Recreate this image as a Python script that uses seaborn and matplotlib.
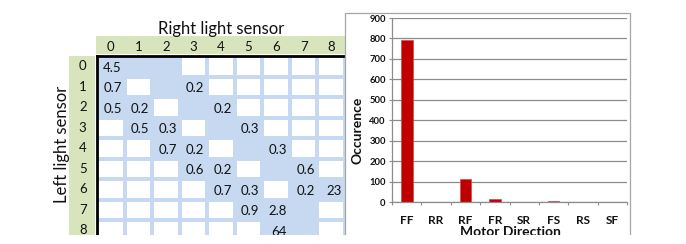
import numpy as np
import matplotlib
matplotlib.use("Agg")
import matplotlib.pyplot as plt
import seaborn as sns
from matplotlib.patches import Rectangle
from matplotlib.colors import ListedColormap

# ---------------- data ----------------
sensor_levels = [0, 1, 2, 3, 4, 5, 6, 7, 8]
highlight_rows = [
    [1, 1, 1, 0, 0, 0, 0, 0, 0],
    [1, 0, 1, 1, 0, 0, 0, 0, 0],
    [1, 1, 0, 1, 1, 0, 0, 0, 0],
    [0, 1, 1, 0, 1, 1, 0, 0, 0],
    [0, 0, 1, 1, 0, 1, 1, 0, 0],
    [0, 0, 0, 1, 1, 0, 1, 1, 0],
    [0, 0, 0, 0, 1, 1, 0, 1, 1],
    [0, 0, 0, 0, 0, 1, 1, 1, 0],
    [0, 0, 0, 0, 0, 0, 1, 1, 0],
]
cell_text = [
    ["4.5", "", "", "", "", "", "", "", ""],
    ["0.7", "", "", "0.2", "", "", "", "", ""],
    ["0.5", "0.2", "", "", "0.2", "", "", "", ""],
    ["", "0.5", "0.3", "", "", "0.3", "", "", ""],
    ["", "", "0.7", "0.2", "", "", "0.3", "", ""],
    ["", "", "", "0.6", "0.2", "", "", "0.6", ""],
    ["", "", "", "", "0.7", "0.3", "", "0.2", "23"],
    ["", "", "", "", "", "0.9", "2.8", "", ""],
    ["", "", "", "", "", "", "64", "", ""],
]
directions = ["FF", "RR", "RF", "FR", "SR", "FS", "RS", "SF"]
occurrences = [790, 0, 112, 13, 0, 5, 0, 1]

# ---------------- style ----------------
sns.set_theme(style="white")
plt.rcParams['font.family'] = ['Lato', 'DejaVu Sans']

W, H = 686, 244
fig = plt.figure(figsize=(W / 100, H / 100), dpi=100)
fig.patch.set_facecolor('white')


def fx(px):
    return px / W


def fy(py):
    return 1 - py / H


BLUE = '#C6D9F1'
GREEN = '#D8E4BC'
GRID = '#C8C8C8'
TXT = '#111111'
CELL_FS = 9.5

# ---------------- table (heatmap) ----------------
T_L, T_R, T_T, T_B = 97, 345, 56, 235
ax = fig.add_axes([fx(T_L), fy(T_B), fx(T_R) - fx(T_L), fy(T_T) - fy(T_B)])
hl = np.array(highlight_rows)
sns.heatmap(np.zeros_like(hl), cmap=ListedColormap(['white']), cbar=False,
            linewidths=1.5, linecolor=GRID, ax=ax)
sns.heatmap(hl, mask=(hl == 0), cmap=ListedColormap([BLUE]), vmin=0, vmax=1,
            cbar=False, linewidths=1.5, linecolor=BLUE,
            annot=np.array(cell_text), fmt='',
            annot_kws=dict(fontsize=CELL_FS, color=TXT), ax=ax)
row_px = 20.5
ax.set_ylim((T_B - T_T) / row_px, 0)
ax.set_xlim(0, 9)

for t in ax.texts:
    x, y = t.get_position()
    t.set_position((x + 0.40, y + 0.07))
    t.set_ha('right')
    t.set_clip_on(True)

ax.xaxis.tick_top()
ax.set_xticks(np.arange(len(sensor_levels)) + 0.5)
ax.set_xticklabels(sensor_levels, rotation=0)
ax.set_yticks(np.arange(len(sensor_levels)) + 0.5)
ax.set_yticklabels(sensor_levels, rotation=0)
ax.tick_params(axis='both', length=0, labelsize=CELL_FS, labelcolor=TXT)
ax.tick_params(axis='x', pad=2.0)
ax.tick_params(axis='y', pad=7.5)
ax.set_xlabel('')
ax.set_ylabel('')
for s in ['left', 'top']:
    ax.spines[s].set_visible(True)
    ax.spines[s].set_color('black')
    ax.spines[s].set_linewidth(2.0)
for s in ['right', 'bottom']:
    ax.spines[s].set_visible(False)


def axx(px):
    return (px - T_L) / (T_R - T_L)


def axy(py):
    return (T_B - py) / (T_B - T_T)


ax.add_patch(Rectangle((axx(96), axy(54)), 1 - axx(96), axy(36) - axy(54),
                       transform=ax.transAxes, clip_on=False,
                       facecolor=GREEN, edgecolor='none', zorder=0))
ax.add_patch(Rectangle((axx(69), 0), axx(95) - axx(69), 1,
                       transform=ax.transAxes, clip_on=False,
                       facecolor=GREEN, edgecolor='none', zorder=0))

fig.text(fx(221), fy(29), "Right light sensor", ha='center', va='center',
         fontsize=12, color=TXT)
fig.text(fx(62), fy(144), "Left light sensor", ha='center', va='center',
         rotation=90, fontsize=12, color=TXT)

# ---------------- bar chart ----------------
fig.add_artist(Rectangle((fx(345), fy(250)), fx(630) - fx(345), fy(13) - fy(250),
                         transform=fig.transFigure, facecolor='white',
                         edgecolor='#A6A6A6', lw=0.9, zorder=0.5))

ax2 = fig.add_axes([fx(392), fy(202), fx(627) - fx(392), fy(18) - fy(202)])
ax2.set_zorder(1)
sns.barplot(x=directions, y=occurrences, color='#C00000', saturation=1,
            width=0.4, edgecolor='#D24A4A', linewidth=0.5, ax=ax2)
ax2.set_ylim(0, 900)
ax2.set_xlim(-0.5, len(directions) - 0.5)
ax2.set_yticks(range(0, 901, 100))
ax2.yaxis.grid(True, color='#8C8C8C', lw=0.9)
ax2.xaxis.grid(False)
ax2.set_axisbelow(True)
ax2.set_facecolor('none')
for s in ['top', 'right']:
    ax2.spines[s].set_visible(False)
for s in ['left', 'bottom']:
    ax2.spines[s].set_color('#8C8C8C')
    ax2.spines[s].set_linewidth(0.9)
ax2.set_xticks(np.arange(-0.5, len(directions), 1), minor=True)
ax2.tick_params(axis='y', which='major', length=2.5, width=0.8, color='#8C8C8C',
                direction='out', pad=2, labelsize=6.8, labelcolor=TXT, left=True)
ax2.tick_params(axis='x', which='major', length=0, pad=9, labelsize=8.5,
                labelcolor=TXT)
ax2.tick_params(axis='x', which='minor', length=2.5, width=0.8, color='#8C8C8C',
                direction='out', bottom=True)
for lab in ax2.get_xticklabels() + ax2.get_yticklabels():
    lab.set_fontweight('bold')
ax2.set_xlabel('')
ax2.set_ylabel('')

fig.text(fx(358), fy(130), "Occurence", ha='center', va='center', rotation=90,
         fontsize=10, fontweight='bold', color=TXT)
fig.text(fx(510), fy(236.5), "Motor Direction", ha='center', va='baseline',
         fontsize=10, fontweight='bold', color=TXT)

# white strip where the screenshot is cut off
fig.add_artist(Rectangle((0, 0), 1, fy(235), transform=fig.transFigure,
                         facecolor='white', edgecolor='none', zorder=10))

fig.savefig('out.png', dpi=100, facecolor='white')
